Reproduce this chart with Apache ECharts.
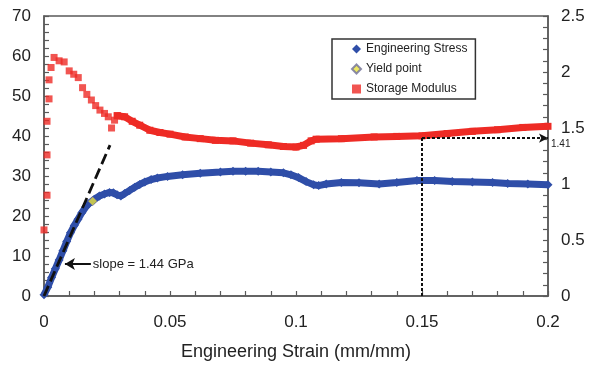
<!DOCTYPE html>
<html><head><meta charset="utf-8">
<script src="https://cdn.jsdelivr.net/npm/echarts@6/dist/echarts.min.js"></script>
<style>html,body{margin:0;padding:0;background:#fff}#c{width:592px;height:366px}</style>
</head><body><div id="c"></div>
<script>
// ---- data ----
const xAxisTitle = 'Engineering Strain (mm/mm)';
const legendNames = ['Engineering Stress', 'Yield point', 'Storage Modulus'];

// Engineering stress (MPa, left axis)
const stressStrain = [0.0000,0.0015,0.0030,0.0045,0.0060,0.0075,0.0090,0.0105,0.0120,0.0135,0.0150,0.0165,0.0180,0.0200,0.0220,0.0240,0.0260,0.0275,0.0290,0.0305,0.0320,0.0340,0.0360,0.0380,0.0400,0.0425,0.0450,0.0490,0.0550,0.0620,0.0700,0.0750,0.0800,0.0850,0.0900,0.0950,0.0980,0.1010,0.1040,0.1070,0.1090,0.1120,0.1180,0.1250,0.1330,0.1400,0.1480,0.1550,0.1620,0.1700,0.1780,0.1840,0.1920,0.2000];
const stressValues = [0.3,2.2,4.6,6.8,9.0,11.3,13.6,15.8,17.6,19.2,20.8,22.2,23.2,24.2,25.0,25.5,25.9,25.8,25.3,25.0,25.6,26.4,27.2,27.9,28.5,29.1,29.5,29.9,30.3,30.7,31.0,31.2,31.2,31.2,31.0,30.8,30.3,29.6,28.6,27.8,27.6,28.0,28.4,28.3,28.0,28.4,28.9,28.9,28.6,28.5,28.4,28.1,28.0,27.8];

// Yield point
const yieldStrain = 0.0193;
const yieldStress = 23.7;

// Storage modulus (GPa, right axis) - early distinct points
const modEarlyStrain = [0.0000,0.0012,0.0012,0.0012,0.0020,0.0020,0.0028,0.0040,0.0060,0.0080,0.0100,0.0118,0.0136,0.0153,0.0170,0.0188,0.0205,0.0222,0.0240,0.0255,0.0268,0.0280,0.0292];
const modEarlyValues = [0.59,0.90,1.26,1.56,1.76,1.93,2.04,2.13,2.10,2.09,2.01,1.98,1.95,1.86,1.80,1.75,1.70,1.66,1.63,1.60,1.50,1.57,1.61];
// Storage modulus - dense band
const modStrain = [0.0290,0.0320,0.0350,0.0380,0.0420,0.0460,0.0500,0.0560,0.0620,0.0680,0.0750,0.0820,0.0890,0.0950,0.1000,0.1030,0.1060,0.1080,0.1180,0.1310,0.1400,0.1500,0.1600,0.1700,0.1800,0.1900,0.2000];
const modValues = [1.61,1.60,1.56,1.525,1.48,1.46,1.445,1.42,1.405,1.39,1.385,1.365,1.35,1.335,1.33,1.345,1.385,1.40,1.405,1.42,1.425,1.43,1.45,1.47,1.485,1.505,1.515];

// Annotations
const slopeGPa = 1.44;
const slopeEndStrain = 0.0262;
const slopeArrowY = 8;
const slopeArrowFrom = 0.0186, slopeArrowTo = 0.0083;
const refStrain = 0.15, refModulus = 1.41, refEndStrain = 0.2;

// ---- chart ----
const FONT = 'Liberation Sans, Arial, Helvetica, sans-serif';
const BLUE = '#2f4ea8', RED = '#ee2b25', AXIS = '#5a5a5a', TXT = '#222';
const zip = (a, b) => a.map((v, i) => [v, b[i]]);

const chart = echarts.init(document.getElementById('c'), null, {renderer: 'canvas'});
const axisCommon = {
  axisLine: {show: true, lineStyle: {color: AXIS, width: 1.5}},
  axisTick: {show: true, inside: true, length: 5, lineStyle: {color: AXIS, width: 1.2}},
  minorTick: {show: true, splitNumber: 5, length: 5, lineStyle: {color: AXIS, width: 1.2}},
  splitLine: {show: false},
  axisLabel: {color: TXT, fontSize: 17, fontFamily: FONT, margin: 13}
};
chart.setOption({
  animation: false,
  backgroundColor: '#fff',
  grid: {left: 44, right: 44, top: 16, bottom: 67, show: true, borderColor: AXIS, borderWidth: 1.5, backgroundColor: 'transparent'},
  legend: {
    orient: 'vertical', left: 332, top: 39,
    backgroundColor: '#fff', borderColor: '#333', borderWidth: 1.5, borderRadius: 0,
    padding: [4, 8, 4, 19], itemGap: 8, itemWidth: 9, itemHeight: 9,
    textStyle: {fontSize: 12, fontFamily: FONT, color: TXT, lineHeight: 12},
    data: [
      {name: legendNames[0], icon: 'diamond'},
      {name: legendNames[1], icon: 'diamond'},
      {name: legendNames[2], icon: 'rect'}
    ]
  },
  xAxis: Object.assign({}, axisCommon, {
    type: 'value', min: 0, max: 0.2, interval: 0.05,
    name: xAxisTitle, nameLocation: 'middle', nameGap: 47,
    nameTextStyle: {fontSize: 18, fontFamily: FONT, color: TXT},
    axisLabel: Object.assign({}, axisCommon.axisLabel, {margin: 18})
  }),
  yAxis: [
    Object.assign({}, axisCommon, {type: 'value', min: 0, max: 70, interval: 10, position: 'left'}),
    Object.assign({}, axisCommon, {type: 'value', min: 0, max: 2.5, interval: 0.5, position: 'right'})
  ],
  series: [
    {
      name: legendNames[0], type: 'line', xAxisIndex: 0, yAxisIndex: 0,
      data: zip(stressStrain, stressValues),
      symbol: 'diamond', symbolSize: 9, showSymbol: true, showAllSymbol: true,
      lineStyle: {color: BLUE, width: 7}, itemStyle: {color: BLUE},
      z: 2
    },
    {
      name: legendNames[2], type: 'scatter', yAxisIndex: 1,
      data: zip(modEarlyStrain, modEarlyValues),
      symbol: 'rect', symbolSize: 7, itemStyle: {color: RED}, z: 2
    },
    {
      name: legendNames[2], type: 'line', yAxisIndex: 1,
      data: zip(modStrain, modValues),
      symbol: 'rect', symbolSize: 7, showSymbol: true, showAllSymbol: true,
      lineStyle: {color: RED, width: 7}, itemStyle: {color: RED}, z: 2,
      markLine: {
        silent: true, animation: false,
        lineStyle: {color: '#111', width: 2, type: [3, 2]},
        data: [
          [{coord: [refStrain, 0], symbol: 'none'}, {coord: [refStrain, refModulus], symbol: 'none'}],
          [{coord: [refStrain, refModulus], symbol: 'none'}, {coord: [refEndStrain, refModulus], symbol: 'arrow', symbolSize: [7, 9],
            label: {show: true, position: 'end', formatter: String(refModulus), fontSize: 10, fontFamily: FONT, color: TXT, distance: 3, offset: [0, 6]}}]
        ],
        label: {show: false}
      }
    },
    {
      name: legendNames[1], type: 'scatter', yAxisIndex: 0,
      data: [[yieldStrain, yieldStress]],
      symbol: 'diamond', symbolSize: 9,
      itemStyle: {color: '#e8e23c', borderColor: '#6f6f9a', borderWidth: 1}, z: 3
    },
    {
      name: 'slope', type: 'line', yAxisIndex: 0,
      data: [[0, 0], [slopeEndStrain, slopeEndStrain * slopeGPa * 1000]],
      symbol: 'none', lineStyle: {color: '#111', width: 2.8, type: [11, 5]}, z: 4,
      markLine: {
        silent: true, animation: false,
        lineStyle: {color: '#111', width: 2, type: 'solid'},
        data: [[{coord: [slopeArrowFrom, slopeArrowY], symbol: 'none'},
                {coord: [slopeArrowTo, slopeArrowY], symbol: 'arrow', symbolSize: [9, 10]}]],
        label: {show: true, position: 'start', distance: 2, formatter: 'slope = ' + slopeGPa + ' GPa', fontSize: 13, fontFamily: FONT, color: TXT}
      }
    }
  ]
});
</script></body></html>
